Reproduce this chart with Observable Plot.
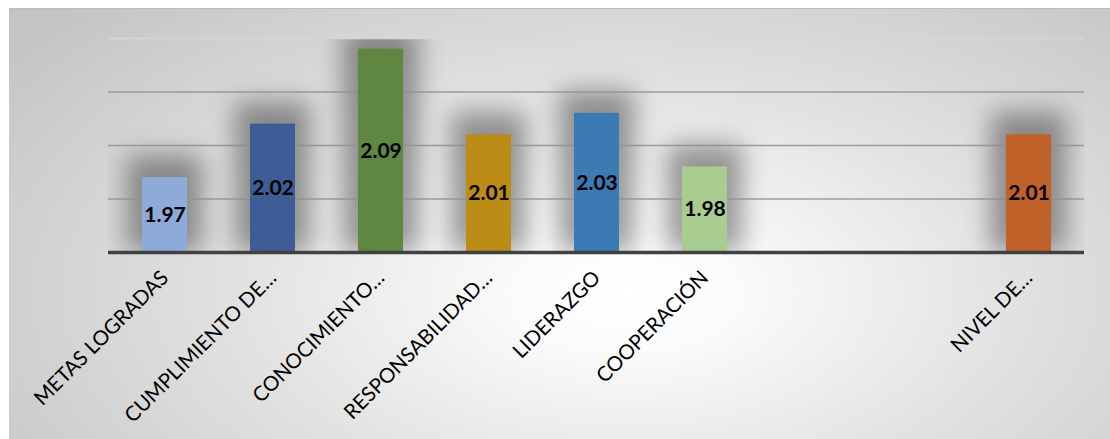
<!DOCTYPE html>
<html>
<head>
<meta charset="utf-8">
<script src="https://cdn.jsdelivr.net/npm/d3@7"></script>
<script src="https://cdn.jsdelivr.net/npm/@observablehq/plot@0.6"></script>
<style>
  html, body { margin: 0; padding: 0; background: #fff; }
  #wrap { position: relative; width: 1110px; height: 439px; overflow: hidden; }
  #panel {
    position: absolute; left: 9px; top: 8px; width: 1101px; height: 431px;
    background: radial-gradient(ellipse 70% 95% at 56% 66%, #ffffff 0%, #fbfbfb 14%, #e2e2e2 50%, #c4c4c4 100%);
    border-top: 1px solid #bdbdbd;
    box-sizing: border-box;
  }
  #chart { position: absolute; left: 0; top: 0; }
</style>
</head>
<body>
<div id="wrap"><div id="panel"></div><div id="chart"></div></div>
<script>
// Categories (two empty slots before the last one)
const categories = [
  "METAS LOGRADAS",
  "CUMPLIMIENTO DE…",
  "CONOCIMIENTO…",
  "RESPONSABILIDAD…",
  "LIDERAZGO",
  "COOPERACIÓN",
  "",
  "",
  "NIVEL DE…"
];
const values = [1.97, 2.02, 2.09, 2.01, 2.03, 1.98, null, null, 2.01];
const colors = ["#8eaad9", "#3e5d97", "#5f8742", "#bb8c16", "#3c7ab4", "#a9cc91", null, null, "#c0612a"];
const gridTicks = [1.95, 2.00, 2.05];
const topTick = 2.10;
const yDomain = [1.90, 2.10];

const rows = categories.map((c, i) => ({i, c, v: values[i], color: colors[i]}))
  .filter(d => d.v != null);
const base = yDomain[0];

const plot = Plot.plot({
  width: 1110,
  height: 439,
  marginLeft: 108,
  marginRight: 26,
  marginTop: 38,
  marginBottom: 187,
  style: {background: "transparent", fontFamily: "Lato, 'Open Sans', sans-serif", overflow: "visible"},
  x: {domain: d3.range(categories.length), paddingInner: 0.585, paddingOuter: 0.2925, axis: null},
  y: {domain: yDomain, axis: null},
  marks: [
    // soft halo behind each bar
    Plot.barY(rows, {x: "i", y1: base, y2: "v", fill: "#000", fillOpacity: 0.38,
      insetLeft: -15, insetRight: -15, insetTop: -22}),
    Plot.ruleY(gridTicks, {stroke: "#8f8f8f", strokeWidth: 1.6, strokeOpacity: 0.85}),
    Plot.ruleY([topTick], {stroke: "#d6d6d6", strokeWidth: 1.6}),
    Plot.barY(rows, {x: "i", y1: base, y2: "v", fill: "color"}),
    Plot.ruleY([base], {stroke: "#414141", strokeWidth: 3.5}),
    Plot.text(rows, {x: "i", y: d => (d.v + base) / 2, text: d => d.v.toFixed(2),
      fontSize: 21, fontWeight: "bold", fill: "#000"}),
    Plot.axisX({tickSize: 0, tickRotate: -45, tickPadding: 22, fontSize: 20.5, label: null,
      tickFormat: i => categories[i], fill: "#000"})
  ]
});

// blur the halo layer (the first bar group) and keep it inside the plot frame
const svg = d3.select(plot);
const defs = svg.insert("defs", ":first-child");
defs.append("filter").attr("id", "halo-blur")
  .attr("x", "-50%").attr("y", "-50%").attr("width", "200%").attr("height", "200%")
  .append("feGaussianBlur").attr("stdDeviation", 13);
defs.append("clipPath").attr("id", "halo-clip")
  .append("rect").attr("x", 108).attr("y", 38).attr("width", 976).attr("height", 214);
const halo = plot.querySelector("g[aria-label='bar']");
if (halo) {
  halo.setAttribute("filter", "url(#halo-blur)");
  const holder = document.createElementNS("http://www.w3.org/2000/svg", "g");
  holder.setAttribute("clip-path", "url(#halo-clip)");
  halo.parentNode.insertBefore(holder, halo);
  holder.appendChild(halo);
}

document.getElementById("chart").appendChild(plot);
</script>
</body>
</html>
